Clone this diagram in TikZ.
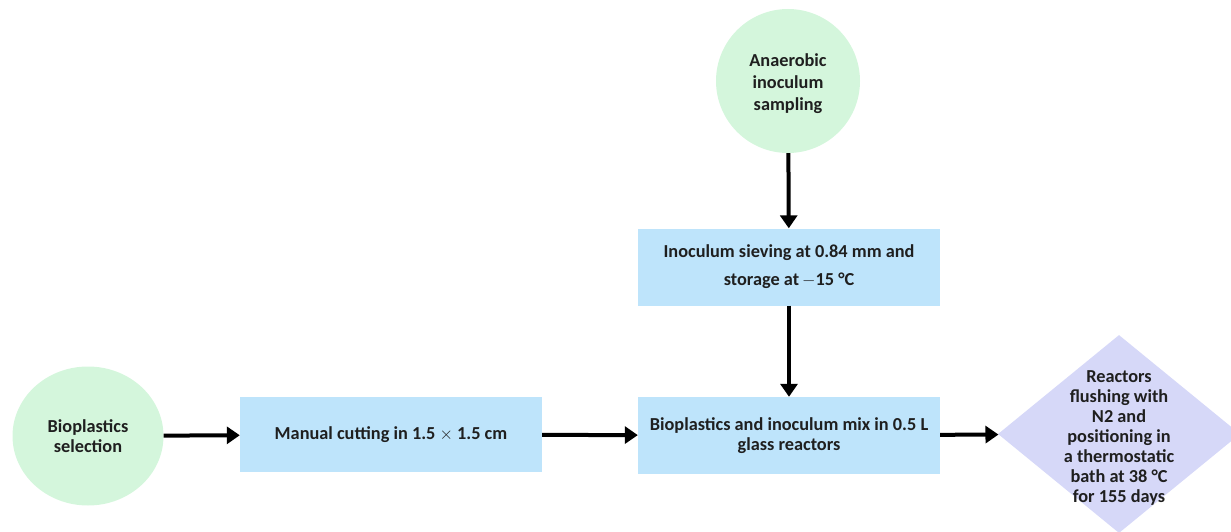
\documentclass[tikz,border=0pt]{standalone}
\usepackage{fontspec}
\setmainfont{Carlito}
\usetikzlibrary{shapes.geometric,arrows.meta}
\definecolor{cgreen}{RGB}{212,246,220}
\definecolor{cblue}{RGB}{190,228,251}
\definecolor{cviolet}{RGB}{214,216,248}
\begin{document}
\begin{tikzpicture}[x=1pt,y=-1pt,
  txt/.style={font=\bfseries\fontsize{18.3}{#1}\selectfont, align=center, text=black!88},
  roundbox/.style={circle, fill=cgreen, minimum size=144pt, inner sep=0pt},
  ovalbox/.style={ellipse, fill=cgreen, minimum width=151pt, minimum height=139pt, inner sep=0pt},
  rectbox/.style={rectangle, fill=cblue, minimum width=302pt, minimum height=#1, inner sep=0pt},
  diamondbox/.style={diamond, fill=cviolet, minimum width=242pt, minimum height=198pt, inner sep=0pt},
  flow/.style={line width=4pt, -{Triangle[length=13pt,width=17pt]}}
]
\useasboundingbox (0,0) rectangle (1231,532);
\clip (0,0) rectangle (1231,532);

\node[roundbox, label={[txt=22, yshift=-3pt]center:{Anaerobic\\inoculum\\sampling}}] (sample) at (788,81) {};
\node[rectbox=77pt, txt=28] (sieve) at (789,267) {Inoculum sieving at 0.84 mm and\\storage at\,$-$15 °C};
\node[rectbox=77pt, txt=20] (mix) at (789,435.5) {Bioplastics and inoculum mix in 0.5 L\\glass reactors};
\node[ovalbox, txt=20] (select) at (88,436) {Bioplastics\\selection};
\node[rectbox=75pt, txt=20] (cut) at (391,434.5) {Manual cutting in 1.5 $\times$ 1.5 cm};
\node[diamondbox, label={[txt=20, yshift=-4pt]center:{Reactors\\flushing with\\N2 and\\positioning in\\a thermostatic\\bath at 38 °C\\for 155 days}}] (flush) at (1119,434) {};

\draw[flow] (sample) -- (sieve);
\draw[flow] (sieve) -- (mix);
\draw[flow] (select) -- (cut);
\draw[flow] (cut) -- (mix);
\draw[flow] (mix) -- (flush);
\end{tikzpicture}
\end{document}
